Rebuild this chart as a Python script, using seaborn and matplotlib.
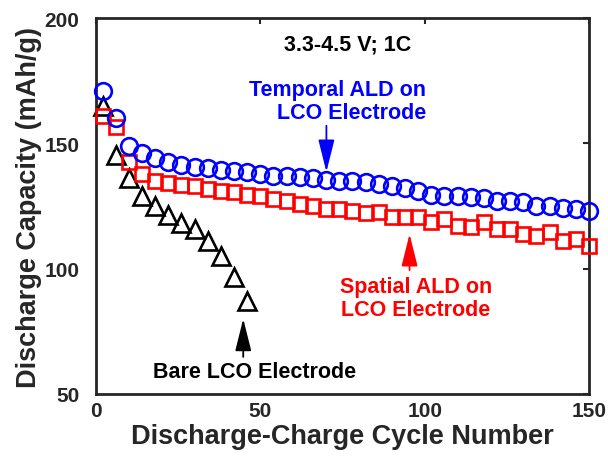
import numpy as np
import pandas as pd
import matplotlib
matplotlib.use("Agg")
import matplotlib.pyplot as plt
import seaborn as sns

# cycle numbers (every 4th cycle)
cycles = list(range(2, 151, 4))
bare_cycles = list(range(2, 47, 4))

temporal_ald = [171, 160, 149, 146, 144, 142.4, 141.4, 140.7, 140, 139.5, 139.1, 138.5,
                137.8, 137.1, 136.9, 136.5, 136.1, 135.2, 135.1, 134.9, 134.5, 133.8, 132.9,
                132.2, 130.8, 129.4, 129.1, 129.1, 128.5, 128.1, 127.1, 127.1, 126.5, 125.1,
                125.1, 124.1, 123.8, 123.1]
spatial_ald = [161, 156.4, 142.4, 137.8, 135.1, 134.2, 133.4, 132.9, 131.8, 131.1, 130.5, 129.4,
               129.1, 127.8, 127.1, 125.8, 125.1, 123.8, 123.8, 123.1, 122.1, 122.5, 120.5,
               120.5, 120.8, 118.5, 119.8, 117.2, 116.5, 118.5, 115.8, 115.8, 113.8, 113.2,
               114.5, 111.2, 111.8, 108.9]
bare_lco = [165, 145.5, 136, 129, 125, 121.4, 118.2, 115.8, 111.2, 105.2, 96.6, 87.2]

x_ticks = [0, 50, 100, 150]
y_ticks = [50, 100, 150, 200]

df_t = pd.DataFrame({"cycle": cycles, "cap": temporal_ald})
df_s = pd.DataFrame({"cycle": cycles, "cap": spatial_ald})
df_b = pd.DataFrame({"cycle": bare_cycles, "cap": bare_lco})

sns.set_style("white")
plt.rcParams["font.family"] = ["Liberation Sans", "DejaVu Sans"]
plt.rcParams["font.weight"] = "bold"

fig = plt.figure(figsize=(6.08, 4.64), dpi=100)
ax = fig.add_axes([96 / 608, 1 - 395 / 464, (589 - 96) / 608, (395 - 19) / 464])

# markers: open symbols, no lines
common = dict(ax=ax, linestyle="", markerfacecolor="none", clip_on=False, zorder=3)
sns.lineplot(data=df_b, x="cycle", y="cap", marker="^", color="black",
             markeredgecolor="black", markersize=12.5, markeredgewidth=1.9, **common)
sns.lineplot(data=df_s, x="cycle", y="cap", marker="s", color="#ff0000",
             markeredgecolor="#ff0000", markersize=10.5, markeredgewidth=1.9, **common)
sns.lineplot(data=df_t, x="cycle", y="cap", marker="o", color="#0000ff",
             markeredgecolor="#0000ff", markersize=12, markeredgewidth=1.9, **common)

ax.set_xlim(0, 150)
ax.set_ylim(50, 200)
ax.set_xticks(x_ticks)
ax.set_yticks(y_ticks)
ax.tick_params(direction="in", length=4, width=1.5, top=True, right=True,
               labelsize=15, colors="#262626")
ax.tick_params(axis="y", pad=12)
ax.tick_params(axis="x", pad=5)
for lab in ax.get_xticklabels() + ax.get_yticklabels():
    lab.set_fontweight("bold")
for sp in ax.spines.values():
    sp.set_linewidth(2)
    sp.set_color("#262626")

ax.set_xlabel("Discharge-Charge Cycle Number", fontsize=19.5, fontweight="bold",
              color="#262626", labelpad=2)
ax.set_ylabel("Discharge Capacity (mAh/g)", fontsize=19.5, fontweight="bold",
              color="#262626", labelpad=2)

# annotations
arrow = "-|>,head_width=0.25,head_length=1.0"
ax.text(76.6, 189.6, "3.3-4.5 V; 1C", fontsize=15.5, fontweight="bold",
        ha="center", va="center", color="black")

ax.text(100.5, 167.0, "Temporal ALD on\nLCO Electrode", fontsize=15.5, fontweight="bold",
        ha="right", va="center", multialignment="right", color="#0000ff", linespacing=1.15)
ax.annotate("", xy=(70.1, 138.6), xytext=(70.1, 157),
            arrowprops=dict(arrowstyle=arrow, color="#0000ff", lw=1.3,
                            mutation_scale=20, shrinkA=0, shrinkB=0))

ax.text(97.3, 88.3, "Spatial ALD on\nLCO Electrode", fontsize=15.5, fontweight="bold",
        ha="center", va="center", multialignment="center", color="#ff0000", linespacing=1.15)
ax.annotate("", xy=(95.4, 113.8), xytext=(95.4, 99.4),
            arrowprops=dict(arrowstyle=arrow, color="#ff0000", lw=1.3,
                            mutation_scale=20, shrinkA=0, shrinkB=0))

ax.text(48.3, 59.0, "Bare LCO Electrode", fontsize=15.5, fontweight="bold",
        ha="center", va="center", color="black")
ax.annotate("", xy=(44.8, 80.0), xytext=(44.8, 64.8),
            arrowprops=dict(arrowstyle=arrow, color="black", lw=1.3,
                            mutation_scale=20, shrinkA=0, shrinkB=0))

fig.savefig("out.png", dpi=100)
